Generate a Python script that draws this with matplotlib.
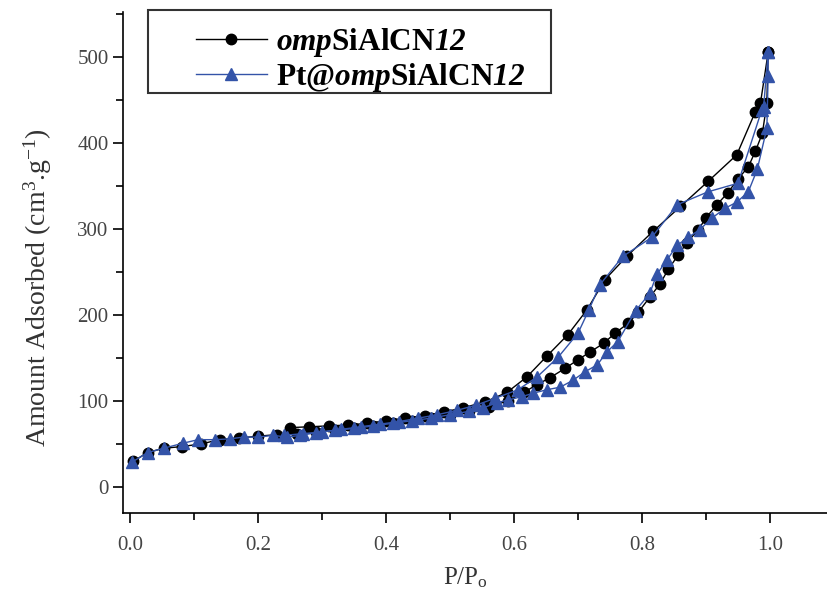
import numpy as np
import matplotlib
matplotlib.use("Agg")
import matplotlib.pyplot as plt
from matplotlib.ticker import MultipleLocator
from matplotlib.patches import Rectangle

plt.rcParams['font.family'] = ['Liberation Serif', 'DejaVu Serif']
plt.rcParams['mathtext.fontset'] = 'custom'
plt.rcParams['mathtext.rm'] = 'Liberation Serif'
plt.rcParams['mathtext.it'] = 'Liberation Serif:italic'
plt.rcParams['mathtext.bf'] = 'Liberation Serif:bold'
plt.rcParams['mathtext.bfit'] = 'Liberation Serif:bold:italic'

# ompSiAlCN12 - Adsorption / Desorption
p_ads_a = [0.005, 0.027, 0.052, 0.081, 0.11, 0.14, 0.17, 0.2, 0.23, 0.26, 0.29, 0.32,
           0.35, 0.38, 0.41, 0.44, 0.47, 0.5, 0.53, 0.56, 0.59, 0.615, 0.636, 0.656,
           0.68, 0.70, 0.719, 0.74, 0.758, 0.778, 0.794, 0.8125, 0.828, 0.841, 0.856,
           0.87, 0.888, 0.9, 0.917, 0.934, 0.95, 0.966, 0.977, 0.988, 0.995, 0.997]
v_ads_a = [30, 40, 45, 47, 50, 55, 57, 59, 61, 62, 64, 66,
           68, 71, 74, 77, 80, 84, 88, 93, 100, 110, 119, 127,
           138, 148, 157, 167, 179, 190, 203, 221, 236, 253, 269,
           284, 299, 313, 328, 342, 358, 372, 390, 411, 446, 505]
p_des_a = [0.997, 0.985, 0.977, 0.948, 0.903, 0.86, 0.817, 0.776, 0.742, 0.714,
           0.684, 0.651, 0.62, 0.589, 0.555, 0.52, 0.49, 0.46, 0.43, 0.40, 0.37,
           0.34, 0.31, 0.28, 0.25]
v_des_a = [505, 446, 436, 386, 355, 326, 297, 268, 241, 206,
           177, 152, 128, 110, 99, 92, 87, 83, 80, 77, 74,
           72, 71, 70, 69]

# Pt@ompSiAlCN12 - Adsorption / Desorption
p_ads_b = [0.003, 0.027, 0.052, 0.083, 0.106, 0.133, 0.156, 0.177, 0.2, 0.223, 0.245,
           0.266, 0.29, 0.32, 0.35, 0.38, 0.41, 0.44, 0.47, 0.5, 0.53, 0.552, 0.573,
           0.59, 0.612, 0.63, 0.651, 0.672, 0.692, 0.711, 0.73, 0.745, 0.762, 0.79,
           0.812, 0.823, 0.839, 0.855, 0.872, 0.89, 0.91, 0.93, 0.948, 0.966, 0.98,
           0.995, 0.997, 0.997]
v_ads_b = [29, 40, 45, 51, 55, 55, 56, 58, 58, 60, 58,
           60, 63, 66, 68, 71, 74, 77, 80, 84, 88, 92, 98,
           101, 105, 109, 113, 116, 124, 134, 142, 157, 169, 205,
           225, 247, 264, 281, 290, 299, 313, 324, 331, 343, 369,
           417, 477, 505]
p_des_b = [0.997, 0.99, 0.987, 0.95, 0.903, 0.855, 0.815, 0.77, 0.734, 0.717, 0.7,
           0.669, 0.636, 0.606, 0.57, 0.54, 0.51, 0.48, 0.45, 0.42, 0.39, 0.36,
           0.33, 0.30, 0.27, 0.24]
v_des_b = [505, 442, 438, 353, 343, 328, 290, 268, 235, 206, 179,
           151, 128, 113, 103, 95, 89, 84, 80, 76, 73, 70,
           67, 64, 62, 60]

blue = '#3353a8'

fig = plt.figure(figsize=(8.27, 5.97), dpi=100)
ax = fig.add_axes([0.149, 0.141, 0.851, 0.839])

ax.plot(p_ads_a, v_ads_a, '-o', color='black', lw=1.0, ms=7.5,
        label=r'$\mathbfit{omp}$SiAlCN$\mathbfit{12}$')
ax.plot(p_des_a, v_des_a, '-o', color='black', lw=1.0, ms=7.5)
ax.plot(p_ads_b, v_ads_b, '-^', color=blue, lw=1.0, ms=9,
        label=r'Pt@$\mathbfit{omp}$SiAlCN$\mathbfit{12}$')
ax.plot(p_des_b, v_des_b, '-^', color=blue, lw=1.0, ms=9)

ax.set_xlim(-0.011, 1.089)
ax.set_ylim(-30, 552)
ax.xaxis.set_major_locator(MultipleLocator(0.2))
ax.xaxis.set_minor_locator(MultipleLocator(0.1))
ax.yaxis.set_major_locator(MultipleLocator(100))
ax.yaxis.set_minor_locator(MultipleLocator(50))
ax.xaxis.set_major_formatter(plt.FormatStrFormatter('%.1f'))

ax.spines['top'].set_visible(False)
ax.spines['right'].set_visible(False)
ax.spines['left'].set_linewidth(1.2)
ax.spines['bottom'].set_linewidth(1.2)
ax.tick_params(which='major', direction='out', length=7, width=1.2,
               labelsize=15, colors='black', labelcolor='#444444')
ax.tick_params(which='minor', direction='out', length=5, width=1.2)
ax.tick_params(axis='x', pad=10)

ax.set_xlabel(r'P/P$_\mathregular{o}$', fontsize=18, color='#333333')
ax.xaxis.set_label_coords(0.486, -0.105, transform=ax.transAxes)
ax.set_ylabel(r'Amount Adsorbed (cm$^\mathregular{3}$.g$^\mathregular{-1}$)',
              fontsize=20, color='#333333')
ax.yaxis.set_label_coords(-0.099, 0.449, transform=ax.transAxes)

# legend without frame, box drawn separately
leg = ax.legend(loc='upper left', bbox_to_anchor=(0.095, 0.985),
                prop={'weight': 'bold', 'size': 22.5}, handlelength=2.25,
                borderpad=0.2, labelspacing=0.08, handletextpad=0.3,
                frameon=False, borderaxespad=0)
box = Rectangle((0.035, 0.838), 0.573, 0.166, transform=ax.transAxes,
                fill=False, edgecolor='#333333', lw=1.5, clip_on=False)
ax.add_patch(box)

fig.savefig('out.png', dpi=100)
